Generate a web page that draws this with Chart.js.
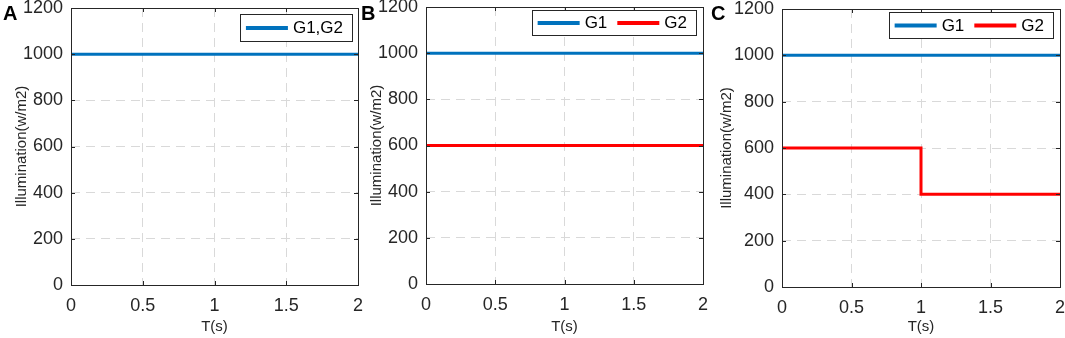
<!DOCTYPE html>
<html lang="en">
<head>
<meta charset="UTF-8">
<title>Illumination G1 / G2</title>
<script src="https://cdn.jsdelivr.net/npm/chart.js"></script>
<style>
  body { margin: 0; background: #fff; width: 1065px; height: 338px; position: relative; overflow: hidden; font-family: "Liberation Sans", Arial, sans-serif; }
  canvas { position: absolute; top: 0; }
  .tag { position: absolute; top: 3px; font-weight: bold; font-size: 20px; line-height: 20px; color: #000; }
</style>
</head>
<body>
<canvas id="chartA" width="364" height="338" style="left:0"></canvas>
<canvas id="chartB" width="354" height="338" style="left:355px"></canvas>
<canvas id="chartC" width="354" height="338" style="left:711px"></canvas>
<div class="tag" style="left:3px">A</div>
<div class="tag" style="left:361px">B</div>
<div class="tag" style="left:711px">C</div>
<script>
// data
const timeA = [0, 2];
const g12A = [1000, 1000];

const timeB = [0, 2];
const g1B = [1000, 1000];
const g2B = [600, 600];

const timeC = [0, 2];
const g1C = [1000, 1000];
// G2 steps down from 600 to 400 at t = 1 s
const timeC2 = [0, 1, 1, 2];
const g2C = [600, 600, 400, 400];

const xTicks = [0, 0.5, 1, 1.5, 2];
const yTicks = [0, 200, 400, 600, 800, 1000, 1200];

const BLUE = '#0072BD';
const RED = '#FF0000';
const FONT = '"Liberation Sans", Arial, sans-serif';

const pts = (xs, ys) => xs.map((x, i) => ({ x: x, y: ys[i] }));

// matlab style box with inward ticks
const matlabBox = {
  id: 'matlabBox',
  afterDatasetsDraw(chart) {
    const { ctx, chartArea: a, scales: { x, y } } = chart;
    ctx.save();
    ctx.strokeStyle = '#262626';
    ctx.lineWidth = 1;
    ctx.beginPath();
    xTicks.forEach(v => {
      const px = Math.round(x.getPixelForValue(v)) + 0.5;
      ctx.moveTo(px, a.bottom); ctx.lineTo(px, a.bottom - 4);
      ctx.moveTo(px, a.top); ctx.lineTo(px, a.top + 4);
    });
    yTicks.forEach(v => {
      const py = Math.round(y.getPixelForValue(v)) + 0.5;
      ctx.moveTo(a.left, py); ctx.lineTo(a.left + 4, py);
      ctx.moveTo(a.right, py); ctx.lineTo(a.right - 4, py);
    });
    ctx.stroke();
    ctx.strokeRect(Math.round(a.left) + 0.5, Math.round(a.top) + 0.5, Math.round(a.width), Math.round(a.height));
    ctx.restore();
  }
};

// legend drawn inside the plot, top right, with a frame
const boxLegend = {
  id: 'boxLegend',
  afterDraw(chart, args, opts) {
    const { ctx, chartArea: a } = chart;
    ctx.save();
    ctx.font = '17px ' + FONT;
    const items = chart.data.datasets.map(d => ({ label: d.label, color: d.borderColor, w: ctx.measureText(d.label).width }));
    const lineLen = 42, gap = 5, sep = 10, padL = 6, padR = 9;
    const width = padL + padR + items.reduce((s, it) => s + lineLen + gap + it.w, 0) + sep * (items.length - 1);
    const right = a.right - opts.right;
    const left = right - width;
    const top = a.top + opts.top;
    const h = opts.height;
    ctx.fillStyle = '#fff';
    ctx.fillRect(left, top, width, h);
    ctx.strokeStyle = '#262626';
    ctx.lineWidth = 1;
    ctx.strokeRect(Math.round(left) + 0.5, Math.round(top) + 0.5, Math.round(width), h);
    let cx = left + padL;
    const cy = top + h / 2;
    ctx.textBaseline = 'middle';
    ctx.textAlign = 'left';
    items.forEach(it => {
      ctx.strokeStyle = it.color;
      ctx.lineWidth = 4;
      ctx.beginPath();
      ctx.moveTo(cx, cy + 0.5);
      ctx.lineTo(cx + lineLen, cy + 0.5);
      ctx.stroke();
      cx += lineLen + gap;
      ctx.fillStyle = '#000';
      ctx.fillText(it.label, cx, cy + 1);
      cx += it.w + sep;
    });
    ctx.restore();
  }
};

function makePanel(id, datasets, f) {
  new Chart(document.getElementById(id), {
    type: 'line',
    data: { datasets: datasets },
    plugins: [matlabBox, boxLegend],
    options: {
      responsive: false,
      animation: false,
      events: [],
      layout: { padding: { top: f.top, right: f.right, left: 0, bottom: 0 } },
      elements: { point: { radius: 0 }, line: { borderWidth: 3, tension: 0 } },
      plugins: {
        legend: { display: false },
        tooltip: { enabled: false },
        boxLegend: f.legend
      },
      scales: {
        x: {
          type: 'linear',
          min: 0,
          max: 2,
          afterBuildTicks(s) { s.ticks = xTicks.map(v => ({ value: v })); },
          afterFit(s) { s.height = 338 - f.bottom; s.paddingLeft = 0; s.paddingRight = 0; },
          grid: { color: '#d9d9d9', drawTicks: false },
          border: { display: false, dash: [9, 6] },
          ticks: { padding: 10, autoSkip: false, maxRotation: 0, color: '#262626', font: { family: FONT, size: 18 }, callback: v => String(v) },
          title: { display: true, text: 'T(s)', color: '#262626', font: { family: FONT, size: 15 }, padding: { top: 0, bottom: 2.5 } }
        },
        y: {
          min: 0,
          max: 1200,
          afterBuildTicks(s) { s.ticks = yTicks.map(v => ({ value: v })); },
          afterFit(s) { s.width = 71; s.paddingTop = 0; s.paddingBottom = 0; },
          grid: { color: '#d9d9d9', drawTicks: false },
          border: { display: false, dash: [9, 6] },
          ticks: { padding: 8, autoSkip: false, color: '#262626', font: { family: FONT, size: 18 }, callback: v => String(v) },
          title: { display: true, text: 'Illumination(w/m2)', color: '#262626', font: { family: FONT, size: 15 }, padding: { top: f.ytitle, bottom: 0 } }
        }
      }
    }
  });
}

makePanel('chartA', [
  { label: 'G1,G2', data: pts(timeA, g12A), borderColor: BLUE, backgroundColor: BLUE }
], { top: 8, bottom: 285, right: 6, ytitle: 12.5, legend: { right: 6, top: 6, height: 27 } });

makePanel('chartB', [
  { label: 'G1', data: pts(timeB, g1B), borderColor: BLUE, backgroundColor: BLUE },
  { label: 'G2', data: pts(timeB, g2B), borderColor: RED, backgroundColor: RED }
], { top: 7, bottom: 284, right: 6, ytitle: 12.5, legend: { right: 7, top: 3, height: 25 } });

makePanel('chartC', [
  { label: 'G1', data: pts(timeC, g1C), borderColor: BLUE, backgroundColor: BLUE },
  { label: 'G2', data: pts(timeC2, g2C), borderColor: RED, backgroundColor: RED }
], { top: 9, bottom: 287, right: 5, ytitle: 6.5, legend: { right: 7, top: 3, height: 26 } });
</script>
</body>
</html>
